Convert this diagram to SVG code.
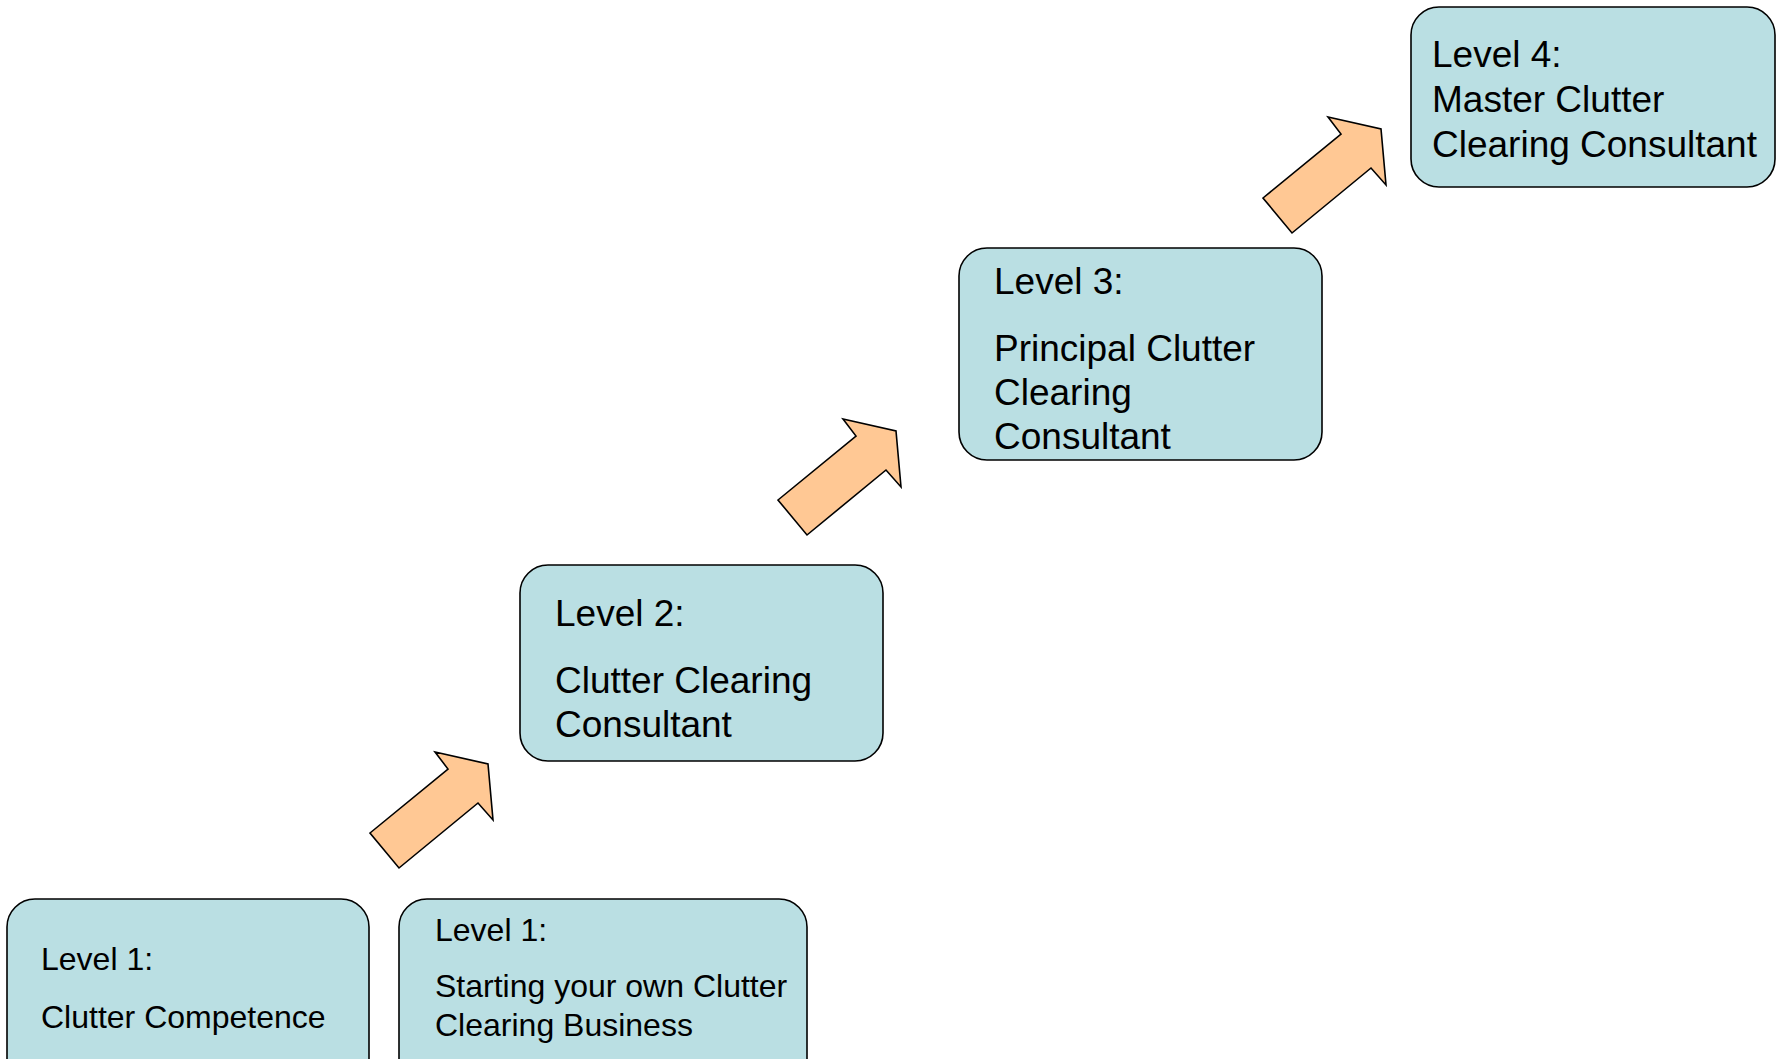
<svg xmlns="http://www.w3.org/2000/svg" xmlns:xlink="http://www.w3.org/1999/xlink" width="1779" height="1059" viewBox="0 0 1779 1059">
<style>
.box{fill:#BADFE3;stroke:#000;stroke-width:1.6}
.arr{fill:#FFC894;stroke:#000;stroke-width:1.6;stroke-linejoin:miter}
.t{font-family:"Liberation Sans",Arial,sans-serif;fill:#000}
.s32{font-size:32px}
.s37{font-size:37px}
</style>
<defs>
<polygon id="arrow" class="arr" points="0,0 78,-64 65,-81 118,-69 123,-13 108,-30 29,35"/>
</defs>
<rect width="1779" height="1059" fill="#fff"/>
<g id="connectors">
<use xlink:href="#arrow" x="370" y="833"/>
<use xlink:href="#arrow" x="778" y="500"/>
<use xlink:href="#arrow" x="1263" y="198"/>
</g>
<g id="level1a">
<rect class="box" x="7" y="899" width="362" height="190" rx="28"/>
<text class="t s32" x="41" y="970">Level 1:</text>
<text class="t s32" x="41" y="1028">Clutter Competence</text>
</g>
<g id="level1b">
<rect class="box" x="399" y="899" width="408" height="190" rx="28"/>
<text class="t s32" x="435" y="941">Level 1:</text>
<text class="t s32" x="435" y="997">Starting your own Clutter</text>
<text class="t s32" x="435" y="1036">Clearing Business</text>
</g>
<g id="level2">
<rect class="box" x="520" y="565" width="363" height="196" rx="28"/>
<text class="t s37" x="555" y="626">Level 2:</text>
<text class="t s37" x="555" y="693">Clutter Clearing</text>
<text class="t s37" x="555" y="737">Consultant</text>
</g>
<g id="level3">
<rect class="box" x="959" y="248" width="363" height="212" rx="28"/>
<text class="t s37" x="994" y="294">Level 3:</text>
<text class="t s37" x="994" y="361">Principal Clutter</text>
<text class="t s37" x="994" y="405">Clearing</text>
<text class="t s37" x="994" y="449">Consultant</text>
</g>
<g id="level4">
<rect class="box" x="1411" y="7" width="364" height="180" rx="28"/>
<text class="t s37" x="1432" y="67">Level 4:</text>
<text class="t s37" x="1432" y="112">Master Clutter</text>
<text class="t s37" x="1432" y="157">Clearing Consultant</text>
</g>
</svg>
